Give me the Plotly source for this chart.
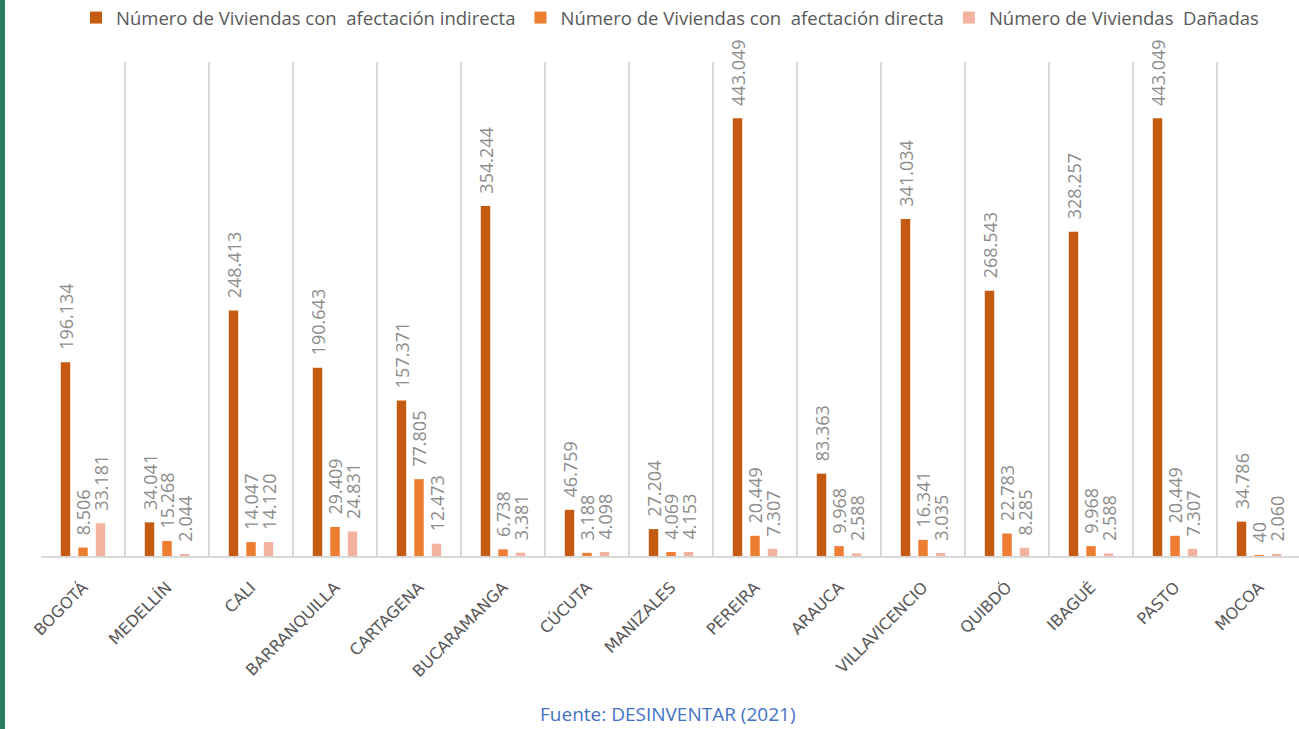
import plotly.graph_objects as go

# Ciudades y número de viviendas afectadas
ciudades = ["BOGOTÁ", "MEDELLÍN", "CALI", "BARRANQUILLA", "CARTAGENA", "BUCARAMANGA",
            "CÚCUTA", "MANIZALES", "PEREIRA", "ARAUCA", "VILLAVICENCIO", "QUIBDÓ",
            "IBAGUÉ", "PASTO", "MOCOA"]
afectacion_indirecta = [196134, 34041, 248413, 190643, 157371, 354244, 46759, 27204,
                        443049, 83363, 341034, 268543, 328257, 443049, 34786]
afectacion_directa = [8506, 15268, 14047, 29409, 77805, 6738, 3188, 4069,
                      20449, 9968, 16341, 22783, 9968, 20449, 40]
viviendas_danadas = [33181, 2044, 14120, 24831, 12473, 3381, 4098, 4153,
                     7307, 2588, 3035, 8285, 2588, 7307, 2060]

series = [
    ("Número de Viviendas con  afectación indirecta", afectacion_indirecta, "#c55a11"),
    ("Número de Viviendas con  afectación directa", afectacion_directa, "#ed7d31"),
    ("Número de Viviendas  Dañadas", viviendas_danadas, "#f4b3a0"),
]

fig = go.Figure()
for nombre, valores, color in series:
    fig.add_trace(go.Bar(
        x=ciudades, y=valores, name=nombre,
        marker=dict(color=color, line=dict(width=0)),
        texttemplate="\u00a0\u00a0%{y:,}", textposition="outside", textangle=-90,
        constraintext="none", cliponaxis=False,
        textfont=dict(family="Open Sans", size=18, color="#8c8c8c"),
    ))

fig.update_layout(
    width=1299, height=729,
    margin=dict(l=41, r=0, t=62, b=173, autoexpand=False),
    paper_bgcolor="white", plot_bgcolor="white",
    barmode="group", bargap=0.375, bargroupgap=0.46,
    separators=",.",
    showlegend=True,
    legend=dict(orientation="h", x=0.5, xanchor="center", y=1.089, yanchor="middle",
                font=dict(family="Open Sans", size=18.5, color="#595959"),
                itemwidth=30, traceorder="normal"),
    xaxis=dict(
        type="category", range=[-0.5, 14.476], tickson="boundaries",
        showgrid=True, gridcolor="#d9d9d9", gridwidth=1.5,
        showline=True, linecolor="#d9d9d9", linewidth=1.5,
        ticks="", tickangle=-45, ticklabelstandoff=14,
        tickfont=dict(family="DejaVu Sans", size=16, color="#595959"),
    ),
    yaxis=dict(range=[0, 500000], showgrid=False, zeroline=False,
               showticklabels=False, ticks="", showline=False),
)

# franja lateral verde
fig.add_shape(type="rect", xref="paper", yref="paper",
              x0=-41 / 1258, x1=-36 / 1258, y0=-173 / 494, y1=1 + 62 / 494,
              fillcolor="#2a7c60", line=dict(width=0), layer="above")

fig.add_annotation(text="Fuente: DESINVENTAR (2021)", xref="paper", yref="paper",
                   x=(668 - 41) / 1258, y=-(714 - 556) / 494, xanchor="center",
                   yanchor="middle", showarrow=False,
                   font=dict(family="Open Sans", size=19, color="#4472c4"))

fig.write_html("out.html")
